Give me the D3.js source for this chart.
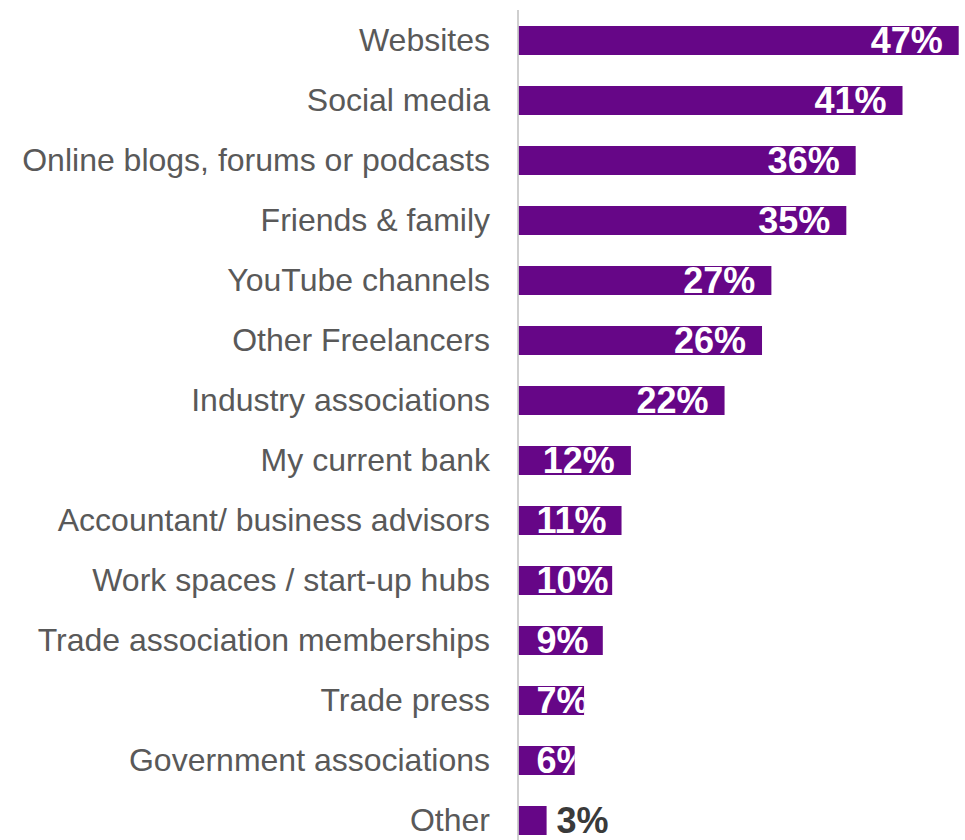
<!DOCTYPE html>
<html>
<head>
<meta charset="utf-8">
<script src="https://cdn.jsdelivr.net/npm/d3@7/dist/d3.min.js"></script>
<style>
  html, body { margin: 0; padding: 0; background: #ffffff; }
  svg { display: block; }
</style>
</head>
<body>
<div id="chart"></div>
<script>
// Sources used to find information, share of respondents (%)
const categories = [
  "Websites",
  "Social media",
  "Online blogs, forums or podcasts",
  "Friends & family",
  "YouTube channels",
  "Other Freelancers",
  "Industry associations",
  "My current bank",
  "Accountant/ business advisors",
  "Work spaces / start-up hubs",
  "Trade association memberships",
  "Trade press",
  "Government associations",
  "Other"
];
const values = [47, 41, 36, 35, 27, 26, 22, 12, 11, 10, 9, 7, 6, 3];
// Bars at or below this share get their label outside the bar
const outsideLabelMax = 3;

const width = 965, height = 840;
const barColor = "#660687";

const svg = d3.select("#chart").append("svg")
  .attr("width", width)
  .attr("height", height);

const x = d3.scaleLinear()
  .domain([0, 47])
  .range([518.5, 958.7]);

const y = d3.scaleBand()
  .domain(categories)
  .range([10.5, 850.5])
  .paddingInner(0.5167)
  .paddingOuter(0.2583);

const data = categories.map((c, i) => ({ cat: c, val: values[i], id: i }));

// Clip paths so in-bar labels never spill past the bar end
const defs = svg.append("defs");
defs.selectAll("clipPath")
  .data(data)
  .join("clipPath")
  .attr("id", d => "clip-" + d.id)
  .append("rect")
  .attr("x", x(0))
  .attr("y", d => y(d.cat))
  .attr("width", d => x(d.val) - x(0))
  .attr("height", y.bandwidth());

// Bars
svg.append("g")
  .selectAll("rect")
  .data(data)
  .join("rect")
  .attr("x", x(0))
  .attr("y", d => y(d.cat))
  .attr("width", d => x(d.val) - x(0))
  .attr("height", y.bandwidth())
  .attr("fill", barColor);

// Category axis on the left
const axis = d3.axisLeft(y).tickSize(0).tickPadding(28);
const gAxis = svg.append("g")
  .attr("transform", `translate(${x(0) - 0.5},0)`)
  .call(axis);
gAxis.select(".domain").remove();
gAxis.selectAll("text")
  .attr("fill", "#595959")
  .style("font-family", "'Liberation Sans', Arial, sans-serif")
  .style("font-size", "32px");

// Vertical baseline
svg.append("line")
  .attr("x1", x(0) - 0.5)
  .attr("x2", x(0) - 0.5)
  .attr("y1", 10)
  .attr("y2", height)
  .attr("stroke", "#bfbfbf")
  .attr("stroke-width", 1.5);

// Value labels: right-aligned inside the bar end, but never starting
// left of a fixed inset from the baseline; clipped to the bar.
const labels = svg.append("g")
  .style("font-family", "'Liberation Sans', Arial, sans-serif")
  .style("font-weight", "bold")
  .style("font-size", "36px");

labels.selectAll("text")
  .data(data)
  .join("text")
  .attr("y", d => y(d.cat) + y.bandwidth() / 2)
  .attr("dy", "0.36em")
  .attr("text-anchor", "start")
  .attr("fill", d => d.val > outsideLabelMax ? "#ffffff" : "#3a3a3a")
  .attr("clip-path", d => d.val > outsideLabelMax ? `url(#clip-${d.id})` : null)
  .text(d => d.val + "%")
  .attr("x", function(d) {
    if (d.val <= outsideLabelMax) return x(d.val) + 10;
    const w = this.getComputedTextLength();
    return Math.max(x(0) + 18, x(d.val) - 16 - w);
  });
</script>
</body>
</html>
